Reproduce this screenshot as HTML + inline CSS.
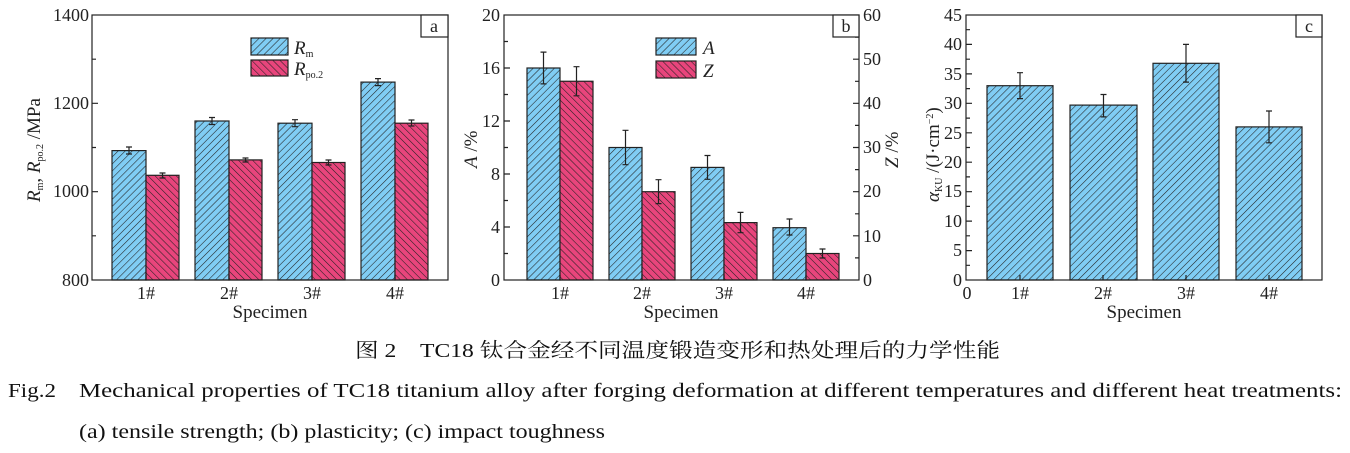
<!DOCTYPE html>
<html><head><meta charset="utf-8"><style>body{margin:0;background:#fff}svg{display:block}</style></head><body>
<svg width="1350" height="453" xmlns="http://www.w3.org/2000/svg" font-family="Liberation Serif, serif">
<defs>
<pattern id="pb" width="5" height="5" patternUnits="userSpaceOnUse" patternTransform="rotate(45)"><rect width="5" height="5" fill="#80cdf4"/><line x1="0" y1="0" x2="0" y2="5" stroke="#222" stroke-width="1.1"/></pattern>
<pattern id="pp" width="5" height="5" patternUnits="userSpaceOnUse" patternTransform="rotate(-45)"><rect width="5" height="5" fill="#e8457c"/><line x1="0" y1="0" x2="0" y2="5" stroke="#222" stroke-width="1.1"/></pattern>
</defs>
<g stroke="#222" stroke-width="1.2">
<rect x="112" y="150.6" width="34" height="129.4" fill="url(#pb)"/>
<rect x="146" y="175.3" width="33" height="104.7" fill="url(#pp)"/>
<rect x="195" y="121" width="34" height="159" fill="url(#pb)"/>
<rect x="229" y="159.9" width="33" height="120.1" fill="url(#pp)"/>
<rect x="278" y="123.2" width="34" height="156.8" fill="url(#pb)"/>
<rect x="312" y="162.5" width="33" height="117.5" fill="url(#pp)"/>
<rect x="361" y="82.1" width="34" height="197.9" fill="url(#pb)"/>
<rect x="395" y="123.2" width="33" height="156.8" fill="url(#pp)"/>
<path fill="none" d="M129 147v7M126 147h6M126 154h6 M162.5 173v5M159.5 173h6M159.5 178h6 M212 117.5v7M209 117.5h6M209 124.5h6 M245.5 158v4M242.5 158h6M242.5 162h6 M295 119.7v7M292 119.7h6M292 126.7h6 M328.5 160v5M325.5 160h6M325.5 165h6 M378 78.6v7M375 78.6h6M375 85.6h6 M411.5 120v6M408.5 120h6M408.5 126h6"/>
<rect x="92" y="15" width="356" height="265" fill="none"/>
<path d="M92 59.2h4M92 103.3h6M92 147.5h4M92 191.7h6M92 235.8h4 M146 280v-5M229 280v-5M312 280v-5M395 280v-5"/>
<rect x="421" y="15" width="27" height="22" fill="#fff"/>
<rect x="251" y="38" width="37" height="17" fill="url(#pb)"/>
<rect x="251" y="60" width="37" height="16" fill="url(#pp)"/>
<rect x="527" y="68" width="33" height="212" fill="url(#pb)"/>
<rect x="560" y="81.25" width="33" height="198.75" fill="url(#pp)"/>
<rect x="609" y="147.5" width="33" height="132.5" fill="url(#pb)"/>
<rect x="642" y="191.7" width="33" height="88.3" fill="url(#pp)"/>
<rect x="691" y="167.4" width="33" height="112.6" fill="url(#pb)"/>
<rect x="724" y="222.6" width="33" height="57.4" fill="url(#pp)"/>
<rect x="773" y="227.7" width="33" height="52.3" fill="url(#pb)"/>
<rect x="806" y="253.5" width="33" height="26.5" fill="url(#pp)"/>
<path fill="none" d="M543.5 52.1v31.8M540.5 52.1h6M540.5 83.9h6 M576.5 66.7v29.1M573.5 66.7h6M573.5 95.8h6 M625.5 130.3v34.4M622.5 130.3h6M622.5 164.7h6 M658.5 179.7v23.9M655.5 179.7h6M655.5 203.6h6 M707.5 155.5v23.8M704.5 155.5h6M704.5 179.3h6 M740.5 212.4v20.3M737.5 212.4h6M737.5 232.7h6 M789.5 219v16M786.5 219h6M786.5 235h6 M822.5 249v9M819.5 249h6M819.5 258h6"/>
<rect x="504" y="15" width="355" height="265" fill="none"/>
<path d="M504 41.5h4M504 68h6M504 94.5h4M504 121h6M504 147.5h4M504 174h6M504 200.5h4M504 227h6M504 253.5h4 M859 37.1h-4M859 59.2h-6M859 81.3h-4M859 103.3h-6M859 125.4h-4M859 147.5h-6M859 169.6h-4M859 191.7h-6M859 213.8h-4M859 235.8h-6M859 257.9h-4 M560 280v-5M642 280v-5M724 280v-5M806 280v-5"/>
<rect x="833" y="15" width="26" height="22" fill="#fff"/>
<rect x="656" y="38" width="40" height="17" fill="url(#pb)"/>
<rect x="656" y="61" width="40" height="17" fill="url(#pp)"/>
<rect x="987" y="85.7" width="66" height="194.3" fill="url(#pb)"/>
<rect x="1070" y="105.1" width="67" height="174.9" fill="url(#pb)"/>
<rect x="1153" y="63.3" width="66" height="216.7" fill="url(#pb)"/>
<rect x="1236" y="126.9" width="66" height="153.1" fill="url(#pb)"/>
<path fill="none" d="M1020 72.7v25.9M1017 72.7h6M1017 98.6h6 M1103.5 94.5v22.4M1100.5 94.5h6M1100.5 116.9h6 M1186 44.4v37.7M1183 44.4h6M1183 82.1h6 M1269 111v31.8M1266 111h6M1266 142.8h6"/>
<rect x="966" y="15" width="356" height="265" fill="none"/>
<path d="M966 265.3h4M966 250.6h6M966 235.8h4M966 221.1h6M966 206.4h4M966 191.7h6M966 176.9h4M966 162.2h6M966 147.5h4M966 132.8h6M966 118.1h4M966 103.3h6M966 88.6h4M966 73.9h6M966 59.2h4M966 44.4h6M966 29.7h4 M1020 280v-5M1103 280v-5M1186 280v-5M1269 280v-5"/>
<rect x="1296" y="15" width="26" height="22" fill="#fff"/>
</g>
<g font-size="18" fill="#222">
<g text-anchor="end">
<text x="89" y="21">1400</text><text x="89" y="109">1200</text><text x="89" y="197">1000</text><text x="89" y="286">800</text>
<text x="500" y="21">20</text><text x="500" y="74">16</text><text x="500" y="127">12</text><text x="500" y="180">8</text><text x="500" y="233">4</text><text x="500" y="286">0</text>
<text x="962" y="21">45</text><text x="962" y="50">40</text><text x="962" y="80">35</text><text x="962" y="109">30</text><text x="962" y="139">25</text><text x="962" y="168">20</text><text x="962" y="197">15</text><text x="962" y="227">10</text><text x="962" y="256">5</text><text x="962" y="286">0</text>
</g>
<text x="863" y="21">60</text><text x="863" y="65">50</text><text x="863" y="109">40</text><text x="863" y="153">30</text><text x="863" y="197">20</text><text x="863" y="242">10</text><text x="863" y="286">0</text>
<g text-anchor="middle">
<text x="146" y="299">1#</text><text x="229" y="299">2#</text><text x="312" y="299">3#</text><text x="395" y="299">4#</text>
<text x="560" y="299">1#</text><text x="642" y="299">2#</text><text x="724" y="299">3#</text><text x="806" y="299">4#</text>
<text x="967" y="299">0</text><text x="1020" y="299">1#</text><text x="1103" y="299">2#</text><text x="1186" y="299">3#</text><text x="1269" y="299">4#</text>
<text x="270" y="318" font-size="19">Specimen</text><text x="681" y="318" font-size="19">Specimen</text><text x="1144" y="318" font-size="19">Specimen</text>
<text x="434" y="32">a</text><text x="846" y="32">b</text><text x="1309" y="32">c</text>
</g>
<text x="294" y="54" font-style="italic" font-size="19">R<tspan font-size="10" font-style="normal" dy="3">m</tspan></text>
<text x="294" y="75" font-style="italic" font-size="19">R<tspan font-size="10" font-style="normal" dy="3">po.2</tspan></text>
<text x="703" y="54" font-style="italic" font-size="19">A</text>
<text x="703" y="77" font-style="italic" font-size="19">Z</text>
<text transform="translate(40,202) rotate(-90)" font-size="19"><tspan font-style="italic">R</tspan><tspan font-size="10" dy="3">m</tspan><tspan dy="-3">, </tspan><tspan font-style="italic">R</tspan><tspan font-size="10" dy="3">po.2</tspan><tspan dy="-3"> /MPa</tspan></text>
<text transform="translate(477,168) rotate(-90)" font-size="19"><tspan font-style="italic">A</tspan> /%</text>
<text transform="translate(898,168) rotate(-90)" font-size="19"><tspan font-style="italic">Z</tspan> /%</text>
<text transform="translate(939,202) rotate(-90)" font-size="19"><tspan font-style="italic">α</tspan><tspan font-size="10" dy="3">KU</tspan><tspan dy="-3"> /(J·cm</tspan><tspan font-size="10" dy="-6">−2</tspan><tspan dy="6">)</tspan></text>
</g>
<g fill="#111" font-size="20">
<text x="355" y="357" textLength="645" lengthAdjust="spacingAndGlyphs" font-family="Liberation Serif, Noto Serif CJK SC, serif">图 2　TC18 钛合金经不同温度锻造变形和热处理后的力学性能</text>
<text x="8" y="397" textLength="48" lengthAdjust="spacingAndGlyphs">Fig.2</text>
<text x="79" y="397" textLength="1263" lengthAdjust="spacingAndGlyphs">Mechanical properties of TC18 titanium alloy after forging deformation at different temperatures and different heat treatments:</text>
<text x="79" y="438" textLength="526" lengthAdjust="spacingAndGlyphs">(a) tensile strength; (b) plasticity; (c) impact toughness</text>
</g>
</svg>
</body></html>
